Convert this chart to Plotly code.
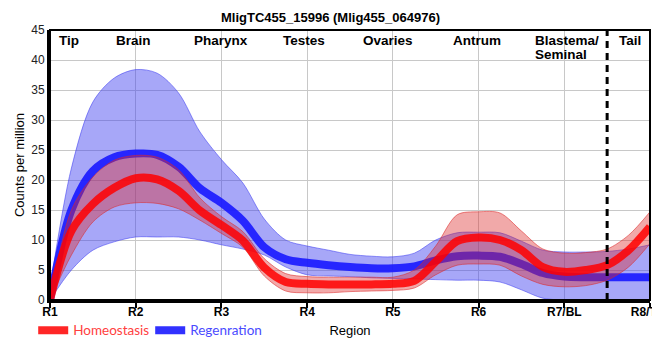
import plotly.graph_objects as go

# ---- data ----
regions = ["R1", "R2", "R3", "R4", "R5", "R6", "R7/BL", "R8/Tail"]
region_pos = [1, 2, 3, 4, 5, 6, 7, 8]
tissue_labels = ["Tip", "Brain", "Pharynx", "Testes", "Ovaries", "Antrum", "Blastema/", "Seminal", "Tail"]

# curve readings along the body axis (quarter-region steps)
x_body = [1, 1.25, 1.5, 1.75, 2, 2.25, 2.5, 2.75, 3, 3.25, 3.5, 3.75, 4, 4.25, 4.5,
          4.75, 5, 5.25, 5.5, 5.75, 6, 6.25, 6.5, 6.75, 7, 7.25, 7.5, 7.75, 8]

homeo_mean = [0, 11.5, 16.0, 18.7, 20.3, 20.1, 18.2, 14.9, 12.5, 9.9, 5.4, 3.0, 2.7, 2.6, 2.6,
              2.6, 2.7, 3.2, 6.4, 9.8, 10.4, 10.0, 8.3, 5.5, 4.7, 5.0, 5.8, 8.3, 12.2]
homeo_low = [0, 7.5, 13.0, 15.5, 16.2, 16.1, 15.2, 13.3, 11.1, 8.8, 4.0, 1.5, 1.2, 1.2, 1.4,
             1.5, 1.6, 2.0, 4.2, 5.8, 6.0, 5.8, 4.0, 2.6, 2.2, 2.4, 3.3, 5.5, 9.4]
homeo_high = [0, 15.0, 20.5, 23.3, 24.1, 23.8, 21.7, 17.0, 13.9, 11.4, 6.9, 4.4, 3.9, 3.8, 3.8,
              3.8, 3.8, 5.0, 9.0, 14.2, 14.7, 14.5, 11.5, 8.5, 7.8, 7.9, 8.5, 10.8, 14.7]

regen_mean = [0, 15.0, 21.5, 23.8, 24.4, 24.2, 22.2, 18.6, 16.2, 13.2, 8.8, 6.8, 6.2, 5.8, 5.5,
              5.3, 5.3, 5.6, 6.6, 7.3, 7.4, 7.2, 6.0, 4.5, 3.9, 3.8, 3.8, 3.8, 3.8]
regen_low = [0, 5.0, 8.3, 9.7, 10.5, 10.5, 10.5, 10.0, 9.2, 8.5, 7.5, 5.5, 4.2, 4.0, 3.9,
             3.7, 3.6, 3.5, 3.4, 3.3, 3.3, 3.0, 1.7, 0.3, 0, 0, 0, 0, 0]
regen_high = [2, 22.0, 33.0, 37.0, 38.4, 37.8, 34.5, 28.0, 23.4, 19.5, 13.5, 10.0, 9.0, 8.3, 7.6,
              7.3, 7.2, 7.8, 10.0, 11.2, 11.3, 11.2, 9.8, 8.3, 8.0, 8.0, 8.1, 8.5, 9.2]

title_text = "MligTC455_15996 (Mlig455_064976)"

# ---- styling ----
FONT = "Liberation Sans, Arial, sans-serif"
BLUE_BAND = "rgba(60,60,240,0.45)"
BLUE_EDGE = "rgba(60,60,240,0.55)"
RED_BAND = "rgba(220,40,40,0.40)"
RED_EDGE = "rgba(220,40,40,0.55)"
BLUE_LINE = "rgba(20,20,255,0.88)"
RED_LINE = "rgba(255,0,0,0.85)"
SMOOTH = 0.9

fig = go.Figure()


def band(low, high, fill, edge):
    fig.add_trace(go.Scatter(x=x_body, y=low, mode="lines",
                             line=dict(color=edge, width=1, shape="spline", smoothing=SMOOTH),
                             showlegend=False, hoverinfo="skip"))
    fig.add_trace(go.Scatter(x=x_body, y=high, mode="lines",
                             line=dict(color=edge, width=1, shape="spline", smoothing=SMOOTH),
                             fill="tonexty", fillcolor=fill, showlegend=False, hoverinfo="skip"))


band(regen_low, regen_high, BLUE_BAND, BLUE_EDGE)
fig.add_trace(go.Scatter(x=x_body, y=regen_mean, mode="lines",
                         name="<span style='color:#4a4aff'>Regenration</span>",
                         line=dict(color=BLUE_LINE, width=8, shape="spline", smoothing=SMOOTH), legendrank=2))
band(homeo_low, homeo_high, RED_BAND, RED_EDGE)
fig.add_trace(go.Scatter(x=x_body, y=homeo_mean, mode="lines",
                         name="<span style='color:#ff4040'>Homeostasis</span>",
                         line=dict(color=RED_LINE, width=8, shape="spline", smoothing=SMOOTH), legendrank=1))

# tissue labels along the top
LABEL_FONT = dict(family=FONT, size=13.5, color="black", weight="bold")
label_x = [1.22, 1.97, 2.99, 3.96, 4.94, 5.98, None, None, 7.77]
for name, lx in zip(tissue_labels, label_x):
    if lx is None:
        continue
    fig.add_annotation(x=lx, y=1, xref="x", yref="paper", yanchor="top", text=name, showarrow=False,
                       font=LABEL_FONT, yshift=-1)
fig.add_annotation(x=6.64, y=1, xref="x", yref="paper", xanchor="left", yanchor="top", text=tissue_labels[6],
                   showarrow=False, font=LABEL_FONT, yshift=-1)
fig.add_annotation(x=6.64, y=1, xref="x", yref="paper", xanchor="left", yanchor="top", text=tissue_labels[7],
                   showarrow=False, font=LABEL_FONT, yshift=-15)

# title as annotation (centred on the figure)
fig.add_annotation(x=(330 - 50) / 600, y=(300 - 17) / 270, xref="paper", yref="paper",
                   xanchor="center", yanchor="middle", text=title_text, showarrow=False,
                   font=dict(family=FONT, size=13, color="black", weight="bold"))

# dashed divider and frame
fig.add_shape(type="line", x0=7.5, x1=7.5, y0=0, y1=1, xref="x", yref="paper",
              line=dict(color="black", width=3, dash="7px,5px"), layer="above")
fig.add_shape(type="rect", x0=0, x1=1, y0=0, y1=1, xref="paper", yref="paper",
              line=dict(color="black", width=2), layer="above")

# the page body adds an 8px offset, so the figure is 8px smaller and margins shifted
fig.update_layout(
    width=652, height=352,
    margin=dict(l=42, r=10, t=22, b=60, autoexpand=False),
    plot_bgcolor="white", paper_bgcolor="white",
    font=dict(family=FONT, size=12, color="black"),
    xaxis=dict(range=[1, 8], tickvals=region_pos, ticktext=regions, showgrid=True, gridcolor="#c8c8c8",
               gridwidth=1, zeroline=False, showline=True, linecolor="black", linewidth=3,
               ticks="outside", ticklen=5, tickwidth=2, tickcolor="black", automargin=False,
               ticklabelstandoff=-6, ticklabeloverflow="allow",
               tickfont=dict(family=FONT, size=12, color="black", weight="bold"),
               title=dict(text="Region", standoff=8, font=dict(family=FONT, size=13, color="black"))),
    yaxis=dict(range=[0, 45], dtick=5, showgrid=True, gridcolor="#c8c8c8", gridwidth=1, zeroline=False,
               showline=True, linecolor="black", linewidth=3, ticks="", automargin=False,
               tickfont=dict(family=FONT, size=12, color="#222"),
               title=dict(text="Counts per million", standoff=4, font=dict(family=FONT, size=13, color="black"))),
    legend=dict(orientation="h", x=-0.028, xanchor="left", y=-0.055, yanchor="top", traceorder="normal",
                font=dict(family="Lato, sans-serif", size=13.5), bgcolor="rgba(0,0,0,0)", itemwidth=30,
                entrywidth=72),
    showlegend=True,
)

fig.write_html("out.html")
